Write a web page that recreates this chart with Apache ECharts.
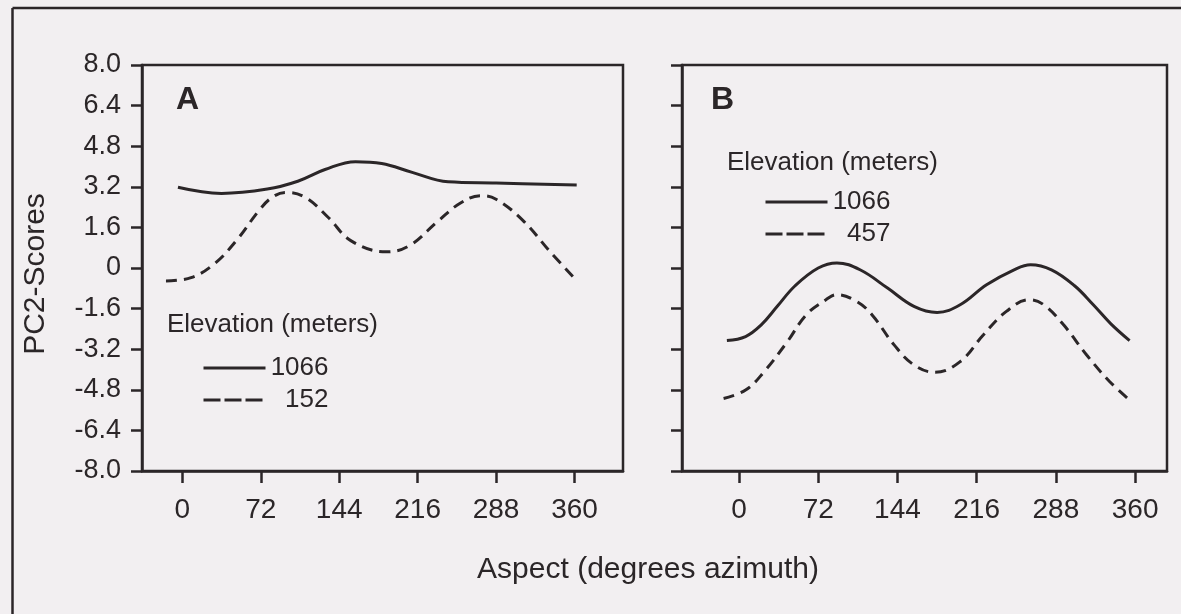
<!DOCTYPE html>
<html>
<head>
<meta charset="utf-8">
<script src="https://cdn.jsdelivr.net/npm/echarts@6/dist/echarts.min.js"></script>
<style>
  html, body { margin: 0; padding: 0; background: #f2eff1; }
  #main { width: 1181px; height: 614px; }
</style>
</head>
<body>
<div id="main"></div>
<script>
// 刻度
var xTicks = [0, 72, 144, 216, 288, 360];
var yTicks = [-8, -6.4, -4.8, -3.2, -1.6, 0, 1.6, 3.2, 4.8, 6.4, 8];
var yTickLabels = ['-8.0', '-6.4', '-4.8', '-3.2', '-1.6', '0', '1.6', '3.2', '4.8', '6.4', '8.0'];

// 图A: [方位角, PC2得分]
var a1066 = [[-4, 3.18], [36, 2.94], [78, 3.11], [106, 3.42], [131, 3.88], [159, 4.19], [183, 4.12],
  [211, 3.77], [244, 3.40], [288, 3.35], [362, 3.27]];
var a152 = [[-15, -0.51], [8, -0.38], [29, 0.15], [50, 1.1], [71, 2.3], [83, 2.8], [95, 2.98], [113, 2.78],
  [134, 1.99], [155, 1.07], [187, 0.64], [208, 0.87], [235, 1.86], [255, 2.55], [274, 2.85], [288, 2.71],
  [313, 1.86], [337, 0.67], [361, -0.45]];

// 图B
var b1066 = [[-11, -2.86], [6, -2.7], [20, -2.25], [35, -1.5], [51, -0.7], [72, 0], [89, 0.2], [110, -0.07],
  [135, -0.79], [159, -1.51], [180, -1.75], [201, -1.45], [225, -0.66], [250, -0.07], [265, 0.13],
  [284, -0.07], [305, -0.7], [322, -1.45], [338, -2.2], [355, -2.86]];
var b457 = [[-14, -5.14], [6, -4.81], [23, -4.08], [44, -2.9], [61, -1.85], [79, -1.25], [89, -1.05],
  [107, -1.32], [121, -1.85], [141, -3.03], [159, -3.82], [178, -4.11], [201, -3.69], [222, -2.64],
  [243, -1.71], [264, -1.25], [277, -1.45], [295, -2.24], [316, -3.43], [337, -4.48], [355, -5.2]];

var ink = '#2b2628';
var font = 'Liberation Sans, Arial, Helvetica, sans-serif';

function yLabel(v) {
  for (var i = 0; i < yTicks.length; i++) {
    if (Math.abs(yTicks[i] - v) < 1e-6) return yTickLabels[i];
  }
  return '';
}

function makeX(idx, min, max) {
  return {
    type: 'value', gridIndex: idx, min: min, max: max,
    splitLine: { show: false },
    axisLine: { show: true, onZero: false, lineStyle: { color: ink, width: 2.5 } },
    axisTick: { show: true, customValues: xTicks, length: 12, lineStyle: { color: ink, width: 2.5 } },
    axisLabel: { customValues: xTicks, color: ink, fontSize: 28, fontFamily: font, margin: 25 }
  };
}

function makeY(idx, showLabel) {
  return {
    type: 'value', gridIndex: idx, min: -8, max: 8,
    splitLine: { show: false },
    axisLine: { show: true, onZero: false, lineStyle: { color: ink, width: 2.5 } },
    axisTick: { show: true, customValues: yTicks, length: 11, lineStyle: { color: ink, width: 2.5 } },
    axisLabel: {
      show: showLabel, customValues: yTicks, formatter: yLabel, color: ink,
      fontSize: 27, fontFamily: font, margin: 21, padding: [6, 0, 0, 0]
    }
  };
}

function makeLine(name, data, idx, dashed) {
  return {
    name: name, type: 'line', data: data, xAxisIndex: idx, yAxisIndex: idx,
    smooth: 0.4, symbol: 'none', silent: true,
    itemStyle: { color: ink },
    lineStyle: { color: ink, width: 3, type: dashed ? [11, 7] : 'solid' }
  };
}

// 图例: 实线 + 虚线
function makeLegend(names, left, top) {
  return {
    orient: 'vertical', left: left, top: top, selectedMode: false,
    data: [
      { name: names[0], lineStyle: { type: 'solid' } },
      { name: names[1], lineStyle: { type: [17, 4] } }
    ],
    itemWidth: 62, itemHeight: 14, itemGap: 6,
    itemStyle: { opacity: 0 },
    lineStyle: { width: 3, color: ink },
    formatter: '{n|{name}}',
    textStyle: {
      color: ink, fontFamily: font, fontSize: 26,
      rich: { n: { width: 58, align: 'right', fontSize: 26, fontFamily: font, color: ink } }
    }
  };
}

var chart = echarts.init(document.getElementById('main'));
chart.setOption({
  backgroundColor: '#f2eff1',
  animation: false,
  grid: [
    { left: 142, top: 65, width: 481, height: 406, show: true, borderColor: ink, borderWidth: 2.5 },
    { left: 682, top: 65, width: 485, height: 406, show: true, borderColor: ink, borderWidth: 2.5 }
  ],
  xAxis: [makeX(0, -37, 404.5), makeX(1, -51.8, 389)],
  yAxis: [makeY(0, true), makeY(1, false)],
  legend: [makeLegend(['1066', '152'], 197, 350), makeLegend(['1066', '457'], 759, 184)],
  series: [
    makeLine('1066', a1066, 0, false),
    makeLine('152', a152, 0, true),
    makeLine('1066', b1066, 1, false),
    makeLine('457', b457, 1, true)
  ],
  graphic: [
    // 外框
    { type: 'line', shape: { x1: 12.5, y1: 8, x2: 1181, y2: 8 }, style: { stroke: ink, lineWidth: 2.5 } },
    { type: 'line', shape: { x1: 12.5, y1: 8, x2: 12.5, y2: 614 }, style: { stroke: ink, lineWidth: 2.5 } },
    { type: 'text', left: 176, top: 84, style: { text: 'A', fontSize: 32, fontWeight: 'bold', fontFamily: font, fill: ink } },
    { type: 'text', left: 711, top: 84, style: { text: 'B', fontSize: 32, fontWeight: 'bold', fontFamily: font, fill: ink } },
    { type: 'text', left: 167, top: 312, style: { text: 'Elevation (meters)', fontSize: 26, fontFamily: font, fill: ink } },
    { type: 'text', left: 727, top: 150, style: { text: 'Elevation (meters)', fontSize: 26, fontFamily: font, fill: ink } },
    { type: 'text', x: 648, y: 570, style: { text: 'Aspect (degrees azimuth)', fontSize: 30, fontFamily: font, fill: ink, align: 'center', verticalAlign: 'middle' } },
    { type: 'text', x: 36, y: 274, rotation: Math.PI / 2, style: { text: 'PC2-Scores', fontSize: 30, fontFamily: font, fill: ink, align: 'center', verticalAlign: 'middle' } }
  ]
});
</script>
</body>
</html>
